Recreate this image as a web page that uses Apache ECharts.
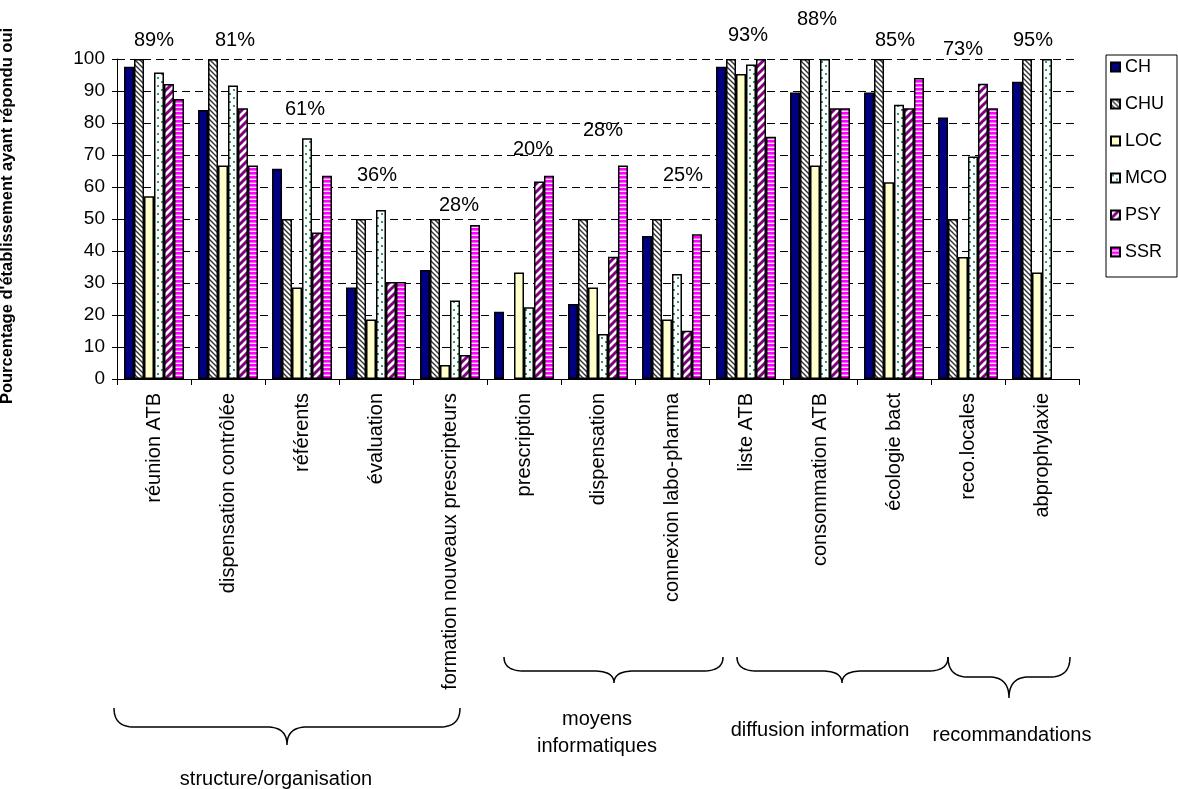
<!DOCTYPE html>
<html>
<head>
<meta charset="utf-8">
<title>Pourcentage d'établissement ayant répondu oui</title>
<script src="https://cdn.jsdelivr.net/npm/echarts@6/dist/echarts.min.js"></script>
<style>
  html, body { margin: 0; padding: 0; background: #fff; }
  #chart { width: 1178px; height: 789px; }
</style>
</head>
<body>
<div id="chart"></div>
<script>
// ---- data ----
const categories = [
  'réunion ATB', 'dispensation contrôlée', 'référents', 'évaluation',
  'formation nouveaux prescripteurs', 'prescription', 'dispensation',
  'connexion labo-pharma', 'liste ATB', 'consommation ATB', 'écologie bact',
  'reco.locales', 'abprophylaxie'
];
const seriesNames = ['CH', 'CHU', 'LOC', 'MCO', 'PSY', 'SSR'];
const CH  = [97.6, 84.1, 65.7, 28.6, 34.1, 21.0, 23.4, 44.7, 97.6, 89.5, 89.5, 81.7, 92.9];
const CHU = [100, 100, 50, 50, 50, null, 50, 50, 100, 100, 100, 50, 100];
const LOC = [57.1, 66.7, 28.6, 18.6, 4.4, 33.3, 28.6, 18.6, 95.3, 66.7, 61.5, 38.1, 33.3];
const MCO = [95.8, 91.7, 75.2, 52.8, 24.5, 22.4, 14.1, 32.8, 98.3, 100, 85.7, 69.5, 100];
const PSY = [92.2, 84.6, 45.8, 30.3, 7.5, 61.7, 38.2, 15.1, 100, 84.6, 84.6, 92.3, null];
const SSR = [87.5, 66.7, 63.5, 30.3, 48.1, 63.5, 66.7, 45.2, 75.7, 84.6, 94.1, 84.6, null];
const overallPct = ['89%', '81%', '61%', '36%', '28%', '20%', '28%', '25%', '93%', '88%', '85%', '73%', '95%'];
const yTicks = [0, 10, 20, 30, 40, 50, 60, 70, 80, 90, 100];

// ---- fill patterns ----
function makeCanvas(w, h, draw) {
  const c = document.createElement('canvas');
  c.width = w; c.height = h;
  draw(c.getContext('2d'), w, h);
  return c;
}
const hatchCHU = makeCanvas(5, 5, (g, w, h) => {
  g.fillStyle = '#ffffff'; g.fillRect(0, 0, w, h);
  g.strokeStyle = '#333333'; g.lineWidth = 1.4;
  g.beginPath();
  g.moveTo(-1, -1); g.lineTo(w + 1, h + 1);
  g.moveTo(-1, h - 1); g.lineTo(1, h + 1);
  g.moveTo(w - 1, -1); g.lineTo(w + 1, 1);
  g.stroke();
});
const dotsMCO = makeCanvas(8, 8, (g, w, h) => {
  g.fillStyle = '#ffffff'; g.fillRect(0, 0, w, h);
  g.fillStyle = '#2e9e64';
  g.fillRect(1, 1, 2, 2);
  g.fillRect(5, 5, 2, 2);
});
const stripesPSY = makeCanvas(8, 8, (g, w, h) => {
  g.fillStyle = '#ffffff'; g.fillRect(0, 0, w, h);
  g.strokeStyle = '#800080'; g.lineWidth = 3;
  g.beginPath();
  g.moveTo(-2, h + 2); g.lineTo(w + 2, -2);
  g.moveTo(-2, 2); g.lineTo(2, -2);
  g.moveTo(w - 2, h + 2); g.lineTo(w + 2, h - 2);
  g.stroke();
});
const bandsSSR = makeCanvas(4, 4, (g, w, h) => {
  g.fillStyle = '#ff00ff'; g.fillRect(0, 0, w, h);
  g.fillStyle = '#ffe6ff'; g.fillRect(0, 2.6, w, 1.4);
});

const fills = {
  CH: '#000080',
  CHU: { image: hatchCHU, repeat: 'repeat' },
  LOC: '#ffffcc',
  MCO: { image: dotsMCO, repeat: 'repeat' },
  PSY: { image: stripesPSY, repeat: 'repeat' },
  SSR: { image: bandsSSR, repeat: 'repeat' }
};
const values = { CH, CHU, LOC, MCO, PSY, SSR };

const FONT = "'Liberation Sans', Arial, sans-serif";

// anchor of each overall percentage label: height in axis units, nudge in px
const pctAnchor = [105.7, 105.7, 84.1, 63.6, 54.2, 71.7, 77.7, 63.6, 107.5, 112.5, 105.8, 102.9, 105.7];
const pctNudge = [0, 7, 3, 1, 9, 9, 5, 11, 2, -3, 1, -5, -9];

const barSeries = seriesNames.map(name => ({
  name: name,
  type: 'bar',
  data: values[name],
  barGap: '0%',
  barCategoryGap: '19%',
  itemStyle: { color: fills[name], borderColor: '#000', borderWidth: 1.5 },
  emphasis: { disabled: true }
}));

const labelSeries = {
  name: 'total',
  type: 'scatter',
  data: categories.map((c, i) => ({
    value: [i, pctAnchor[i]],
    label: { offset: [pctNudge[i], 0] }
  })),
  symbol: 'circle',
  symbolSize: 0,
  clip: false,
  itemStyle: { color: '#000', opacity: 1 },
  label: {
    show: true,
    position: 'inside',
    formatter: p => overallPct[p.dataIndex],
    color: '#000',
    textBorderWidth: 0,
    fontSize: 20,
    fontFamily: FONT
  },
  emphasis: { disabled: true },
  z: 5,
  silent: true
};

// curly brace under a group of categories, sampled as a polyline
function quad(p0, c, p1, n, out) {
  for (let i = 1; i <= n; i++) {
    const t = i / n, u = 1 - t;
    out.push([u * u * p0[0] + 2 * u * t * c[0] + t * t * p1[0],
              u * u * p0[1] + 2 * u * t * c[1] + t * t * p1[1]]);
  }
}
function brace(x1, x2, xt, yTop, yMid, yTip) {
  const r = 20, n = 16;
  const pts = [[x1, yTop]];
  quad([x1, yTop], [x1, yMid], [x1 + r, yMid], n, pts);
  pts.push([xt - r, yMid]);
  quad([xt - r, yMid], [xt, yMid], [xt, yTip], n, pts);
  quad([xt, yTip], [xt, yMid], [xt + r, yMid], n, pts);
  pts.push([x2 - r, yMid]);
  quad([x2 - r, yMid], [x2, yMid], [x2, yTop], n, pts);
  return {
    type: 'polyline',
    shape: { points: pts },
    style: { fill: null, stroke: '#000', lineWidth: 1.5 },
    silent: true
  };
}
function note(text, x, y) {
  return {
    type: 'text', x: x, y: y, silent: true,
    style: { text: text, font: `20px ${FONT}`, fill: '#000', textAlign: 'center', textVerticalAlign: 'middle' }
  };
}

const chart = echarts.init(document.getElementById('chart'), null, { renderer: 'canvas' });
chart.setOption({
  animation: false,
  backgroundColor: '#fff',
  grid: { left: 117, top: 59, width: 962, height: 320, containLabel: false },
  legend: {
    data: seriesNames,
    orient: 'vertical',
    left: 1106,
    top: 55,
    itemWidth: 9,
    itemHeight: 9,
    itemGap: 19,
    padding: [3, 10, 16, 4],
    borderColor: '#000',
    borderWidth: 1,
    icon: 'rect',
    selectedMode: false,
    textStyle: { fontSize: 18, lineHeight: 18, fontFamily: FONT, color: '#000' }
  },
  xAxis: {
    type: 'category',
    data: categories,
    axisLine: { lineStyle: { color: '#000', width: 1 } },
    axisTick: { show: true, length: 6, lineStyle: { color: '#000' } },
    axisLabel: { rotate: 90, margin: 14, fontSize: 20, fontFamily: FONT, color: '#000', interval: 0 }
  },
  yAxis: {
    type: 'value',
    min: yTicks[0],
    max: yTicks[yTicks.length - 1],
    interval: 10,
    axisLine: { show: true, lineStyle: { color: '#000', width: 1 } },
    axisTick: { show: true, length: 5, lineStyle: { color: '#000' } },
    axisLabel: { margin: 12, fontSize: 19, fontFamily: FONT, color: '#000' },
    splitLine: { show: true, lineStyle: { color: '#000', type: [8, 5], width: 1 } }
  },
  graphic: [
    {
      type: 'text', x: 7, y: 216, rotation: Math.PI / 2, silent: true,
      style: {
        text: "Pourcentage d'établissement ayant répondu oui",
        font: `bold 16.5px ${FONT}`, fill: '#000', textAlign: 'center', textVerticalAlign: 'middle'
      }
    },
    brace(114, 460, 287, 708, 727, 745),
    brace(504, 723, 614, 657, 671, 683),
    brace(737, 948, 842, 657, 671, 683),
    brace(948, 1070, 1009, 657, 677, 698),
    note('structure/organisation', 276, 779.5),
    note('moyens', 597, 719.5),
    note('informatiques', 597, 746.5),
    note('diffusion information', 820, 730.5),
    note('recommandations', 1012, 735)
  ],
  series: barSeries.concat([labelSeries])
});
</script>
</body>
</html>
